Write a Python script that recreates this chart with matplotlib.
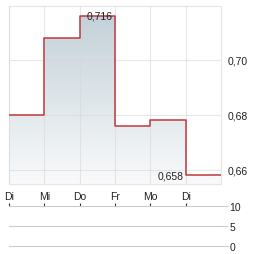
import matplotlib
matplotlib.use("Agg")
import matplotlib.pyplot as plt
import numpy as np

plt.rcParams["font.family"] = ["Liberation Sans", "DejaVu Sans"]

days = ["Di", "Mi", "Do", "Fr", "Mo", "Di"]
prices = [0.680, 0.708, 0.716, 0.676, 0.678, 0.658]
price_ticks = [0.66, 0.68, 0.70]
vol_ticks = [0, 5, 10]

line_col = "#c0393b"
grid_col = "#e6e6e6"
text_col = "#222222"

fig = plt.figure(figsize=(2.64, 2.55), dpi=100)
ax = fig.add_axes([9 / 264, 1 - 185 / 255, 212 / 264, 178 / 255])
axv = fig.add_axes([9 / 264, 1 - 247 / 255, 212 / 264, 40 / 255])

x = np.arange(len(prices) + 1)
y = prices + [prices[-1]]
ymin, ymax = 0.6549, 0.7196

# gradient fill under the step line
fill = ax.fill_between(x, y, ymin, step="post", color="none")
grad = np.linspace(1, 0, 256).reshape(-1, 1)
top = np.array([0.77, 0.82, 0.85])
bot = np.array([0.975, 0.98, 0.985])
img = bot + (top - bot) * grad[..., None]
im = ax.imshow(img, extent=[0, 6, ymin, 0.716], aspect="auto", origin="upper", zorder=1)
im.set_clip_path(fill.get_paths()[0], transform=ax.transData)
ax.step(x, y, where="post", color=line_col, lw=1.1, zorder=3)

ax.set_xlim(0, 6)
ax.set_ylim(ymin, ymax)
ax.set_xticks(range(6))
ax.set_xticklabels(days)
ax.set_yticks(price_ticks)
ax.set_yticklabels([f"{v:.2f}".replace(".", ",") for v in price_ticks])
ax.yaxis.tick_right()
ax.tick_params(length=0, labelsize=7.5, colors=text_col, pad=5)
ax.grid(True, color="#d8d8d8", alpha=0.6, lw=0.8, zorder=2)
ax.set_axisbelow(False)
for s in ax.spines.values():
    s.set_color(grid_col)

i_max = int(np.argmax(prices))
i_min = int(np.argmin(prices))
ax.text(i_max + 0.93, prices[i_max], f"{prices[i_max]:.3f}".replace(".", ","),
        ha="right", va="center", fontsize=7.5, color=text_col, zorder=4)
ax.text(i_min - 0.05, prices[i_min], f"{prices[i_min]:.3f}".replace(".", ","),
        ha="right", va="center", fontsize=7.5, color=text_col, zorder=4)

# volume panel (empty)
axv.set_xlim(0, 6)
axv.set_ylim(0, 10)
axv.set_xticks(range(6))
axv.set_xticklabels([])
axv.xaxis.tick_top()
axv.tick_params(axis="x", length=2, width=0.8, color="#333333", direction="out")
axv.set_yticks(vol_ticks)
axv.yaxis.tick_right()
axv.tick_params(axis="y", length=5, width=0.8, color="#cccccc", labelsize=7.5,
                labelcolor=text_col, pad=1)
for v in vol_ticks:
    axv.axhline(v, color="#cccccc", lw=0.8, clip_on=False)
for s in axv.spines.values():
    s.set_visible(False)

fig.savefig("out.png", dpi=100)
